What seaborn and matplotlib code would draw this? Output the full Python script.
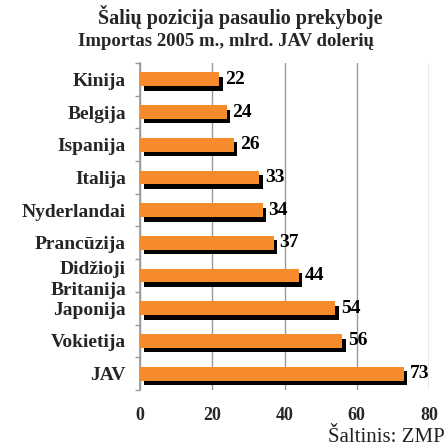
import matplotlib
matplotlib.use("Agg")
import matplotlib.pyplot as plt
import matplotlib.transforms as mtransforms
import numpy as np
import pandas as pd
import seaborn as sns

countries = ["Kinija", "Belgija", "Ispanija", "Italija", "Nyderlandai",
             "Prancūzija", "Didžioji\nBritanija", "Japonija", "Vokietija", "JAV"]
imports = [22, 24, 26, 33, 34, 37, 44, 54, 56, 73]
x_ticks = [0, 20, 40, 60, 80]

df = pd.DataFrame({"Šalis": countries, "Importas": imports})

sns.set_theme(style="white")
plt.rcParams["font.family"] = ["Liberation Serif", "DejaVu Serif"]

fig = plt.figure(figsize=(4.46, 4.48), dpi=100)
ax = fig.add_axes([140 / 446, 1 - 390 / 448, 289 / 446, 327 / 448])

# black shadow bars, shifted a few pixels right and down
sns.barplot(data=df, y="Šalis", x="Importas", orient="h", color="black",
            width=0.42, saturation=1, ax=ax, zorder=3)
n_shadow = len(ax.patches)
shift = mtransforms.offset_copy(ax.transData, fig=fig, x=3.5, y=-4.5, units="dots")
for bar in ax.patches[:n_shadow]:
    bar.set_transform(shift)
    bar.set_linewidth(0)

# orange bars on top
sns.barplot(data=df, y="Šalis", x="Importas", orient="h", color="#F68B2C",
            width=0.42, saturation=1, ax=ax, zorder=4)
for bar in ax.patches[n_shadow:]:
    bar.set_linewidth(0)

for i, v in enumerate(imports):
    ax.text(v + 1.6, i, str(v), va="center", ha="left", fontsize=14,
            fontweight="bold", color="black", zorder=5)

ax.set_xlim(0, 80)
ax.set_ylim(len(countries) - 0.5, -0.5)
ax.set_xticks(x_ticks)
ax.set_xticklabels([str(t) for t in x_ticks], fontsize=13, fontweight="bold")
ax.tick_params(axis="x", length=3.5, color="#999999", pad=9)
ax.set_yticks(np.arange(len(countries)))
ax.set_yticklabels(countries, fontsize=14, fontweight="bold", linespacing=1.35)
ax.tick_params(axis="y", length=0, pad=10)
ax.set_yticks(np.arange(len(countries) + 1) - 0.5, minor=True)
ax.tick_params(axis="y", which="minor", length=3.5, color="#999999", left=True)
ax.set_xlabel("")
ax.set_ylabel("")
ax.grid(axis="x", color="#999999", linewidth=1, zorder=0)
for side in ["top", "right", "bottom"]:
    ax.spines[side].set_visible(False)
ax.spines["left"].set_color("#999999")

fig.text(240 / 446, 1 - 17 / 448, "Šalių pozicija pasaulio prekyboje",
         ha="center", va="center", fontsize=14.5, fontweight="bold")
fig.text(226 / 446, 1 - 42 / 448, "Importas 2005 m., mlrd. JAV dolerių",
         ha="center", va="center", fontsize=13.5, fontweight="bold")
fig.text(445 / 446, 1 - 437 / 448, "Šaltinis: ZMP", ha="right", va="center",
         fontsize=15, color="#222222")

fig.savefig("out.png", dpi=100)
